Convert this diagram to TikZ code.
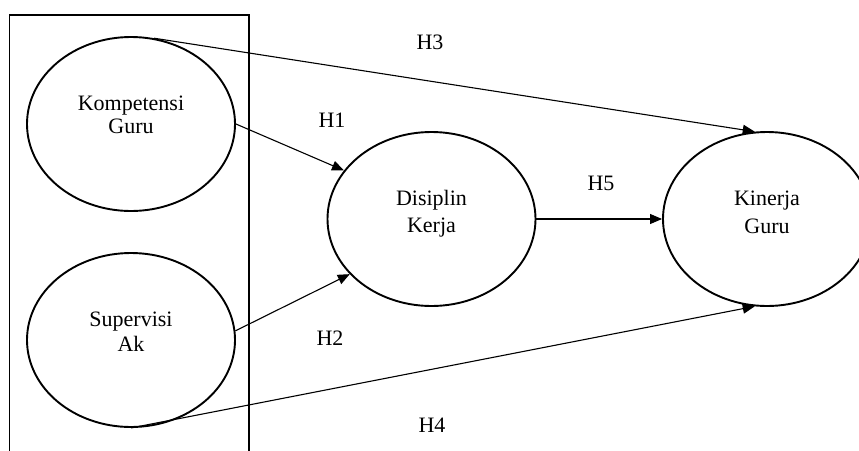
\documentclass[tikz,border=0pt]{standalone}
\usepackage{fontspec}
\setmainfont{Liberation Serif}
\usetikzlibrary{shapes.geometric,arrows.meta}
\begin{document}
\begin{tikzpicture}[x=1pt,y=-1pt,
  var/.style={draw,ellipse,line width=1.9pt,minimum width=208pt,minimum height=174pt,inner sep=0pt},
  vtxt/.style={align=center,inner sep=0pt,font=\fontsize{22}{24}\selectfont},
  hyp/.style={inner sep=0pt,font=\fontsize{22}{24}\selectfont},
  link/.style={line width=1.1pt,-{Triangle[length=12pt,width=10pt]}}]
\useasboundingbox (0,0) rectangle (859,450);
\fill[white] (0,0) rectangle (859,450);
\draw[line width=1.9pt] (9.5,470) -- (9.5,15) -- (249,15) -- (249,470);
\node[var] (komp) at (131,124) {};
\node[var] (sup) at (131,340) {};
\node[var] (dis) at (431.5,219) {};
\node[var] (kin) at (767,219) {};
\node[vtxt] (kompt) at (131,115) {Kompetensi\\[-1pt]Guru};
\node[vtxt] (supt) at (131,332) {Supervisi\\[1pt]Ak};
\node[vtxt] (dist) at (431.5,214) {Disiplin\\[3pt]Kerja};
\node[vtxt] (kint) at (767,212) {Kinerja\\[4pt]Guru};
\draw[link] (komp.75) -- (kin.98);
\draw[link] (komp.east) -- (dis.151);
\draw[link] (sup.5) -- (dis.214);
\draw[link] (dis.east) -- (kin.west);
\draw[link] (sup.south) -- (kin.262);
\node[hyp] (h1) at (332,120) {H1};
\node[hyp] (h2) at (330,338) {H2};
\node[hyp] (h3) at (430,42) {H3};
\node[hyp] (h4) at (432,425) {H4};
\node[hyp] (h5) at (601,183) {H5};
\end{tikzpicture}
\end{document}
